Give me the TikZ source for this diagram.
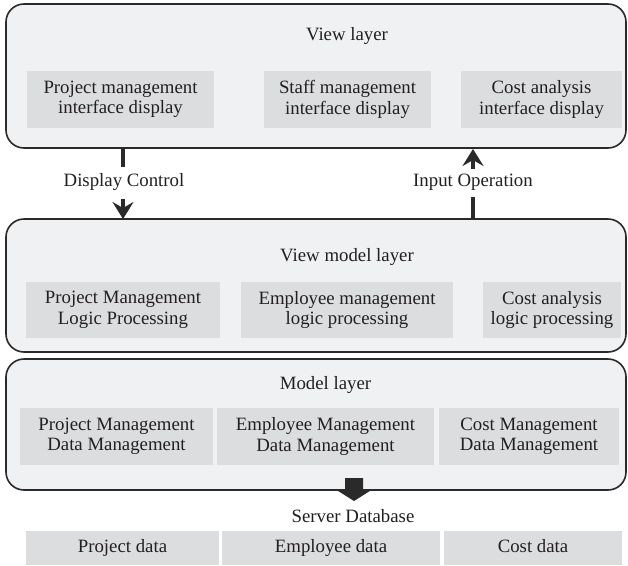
\documentclass[tikz,border=0pt]{standalone}
\usepackage{fontspec}
\setmainfont{Liberation Serif}
\usetikzlibrary{arrows.meta}
\definecolor{outerfill}{HTML}{F0F1F3}
\definecolor{innerfill}{HTML}{DCDDDF}
\definecolor{edgecol}{HTML}{2A2A2A}
\definecolor{txt}{HTML}{231F20}
\begin{document}
\begin{tikzpicture}[x=1pt,y=-1pt,
  font=\fontsize{18.8}{20.5}\selectfont, text=txt,
  layerbox/.style={draw=edgecol, line width=1.6pt, fill=outerfill, rounded corners=18pt},
  innerbox/.style={fill=innerfill, align=center},
  lbl/.style={align=center, inner sep=0pt},
  onelbl/.style={inner sep=0pt, text height=13pt, text depth=4.5pt},
  conn/.style={draw=edgecol, line width=3.5pt},
  tipconn/.style={draw=edgecol, line width=3.5pt, -{Stealth[length=17pt,width=21pt,inset=6pt]}}
]
\useasboundingbox (0,0) rectangle (628,565);
% View layer
\draw[layerbox] (6,4) rectangle (626,148);
\node[onelbl] (vlt) at (347,36) {View layer};
\path[innerbox] (27,71) rectangle (214,128);
\node[lbl] (v1) at (120.5,99.5) {Project management\\interface display};
\path[innerbox] (264,71) rectangle (431,128);
\node[lbl] (v2) at (347.5,99.5) {Staff management\\interface display};
\path[innerbox] (461,71) rectangle (622,128);
\node[lbl] (v3) at (541.5,99.5) {Cost analysis\\interface display};
% View model layer
\draw[layerbox] (6,219) rectangle (626,352);
\node[onelbl] (vmt) at (347,257) {View model layer};
\path[innerbox] (26,282) rectangle (220,338);
\node[lbl] (m1) at (123,310) {Project Management\\Logic Processing};
\path[innerbox] (241,282) rectangle (453,338);
\node[lbl] (m2) at (347,310) {Employee management\\logic processing};
\path[innerbox] (483,282) rectangle (621,338);
\node[lbl] (m3) at (552,310) {Cost analysis\\logic processing};
% Model layer
\draw[layerbox] (6,359) rectangle (626,490);
\node[onelbl] (mlt) at (325.5,385) {Model layer};
\path[innerbox] (20,408) rectangle (213,465);
\node[lbl] (d1) at (116.5,436.5) {Project Management\\Data Management};
\path[innerbox] (217,408) rectangle (434,465);
\node[lbl] (d2) at (325.5,436.5) {Employee Management\\Data Management};
\path[innerbox] (439,408) rectangle (619,465);
\node[lbl] (d3) at (529,436.5) {Cost Management\\Data Management};
% Server database
\node[onelbl] (sdb) at (353,518) {Server Database};
\path[innerbox] (26,531) rectangle (219,565);
\node[onelbl] (b1) at (122.5,548) {Project data};
\path[innerbox] (222,531) rectangle (440,565);
\node[onelbl] (b2) at (331,548) {Employee data};
\path[innerbox] (444,531) rectangle (622,565);
\node[onelbl] (b3) at (533,548) {Cost data};
% Connectors
\node[onelbl] (dc) at (124,182) {Display Control};
\node[onelbl] (io) at (473,182) {Input Operation};
\coordinate (dcTop) at (123,148);
\coordinate (dcMid) at (123,167);
\coordinate (dcA) at (123,199);
\coordinate (dcB) at (123,219);
\draw[conn] (dcTop) -- (dcMid);
\draw[tipconn] (dcA) -- (dcB);
\coordinate (ioBot) at (473,219);
\coordinate (ioMid) at (473,197);
\coordinate (ioA) at (473,169);
\coordinate (ioB) at (473,149);
\draw[conn] (ioBot) -- (ioMid);
\draw[tipconn] (ioA) -- (ioB);
% Block arrow
\fill[edgecol] (345,478) -- (363,478) -- (363,489) -- (373,489) -- (354,501) -- (335,489) -- (345,489) -- cycle;
\end{tikzpicture}
\end{document}
